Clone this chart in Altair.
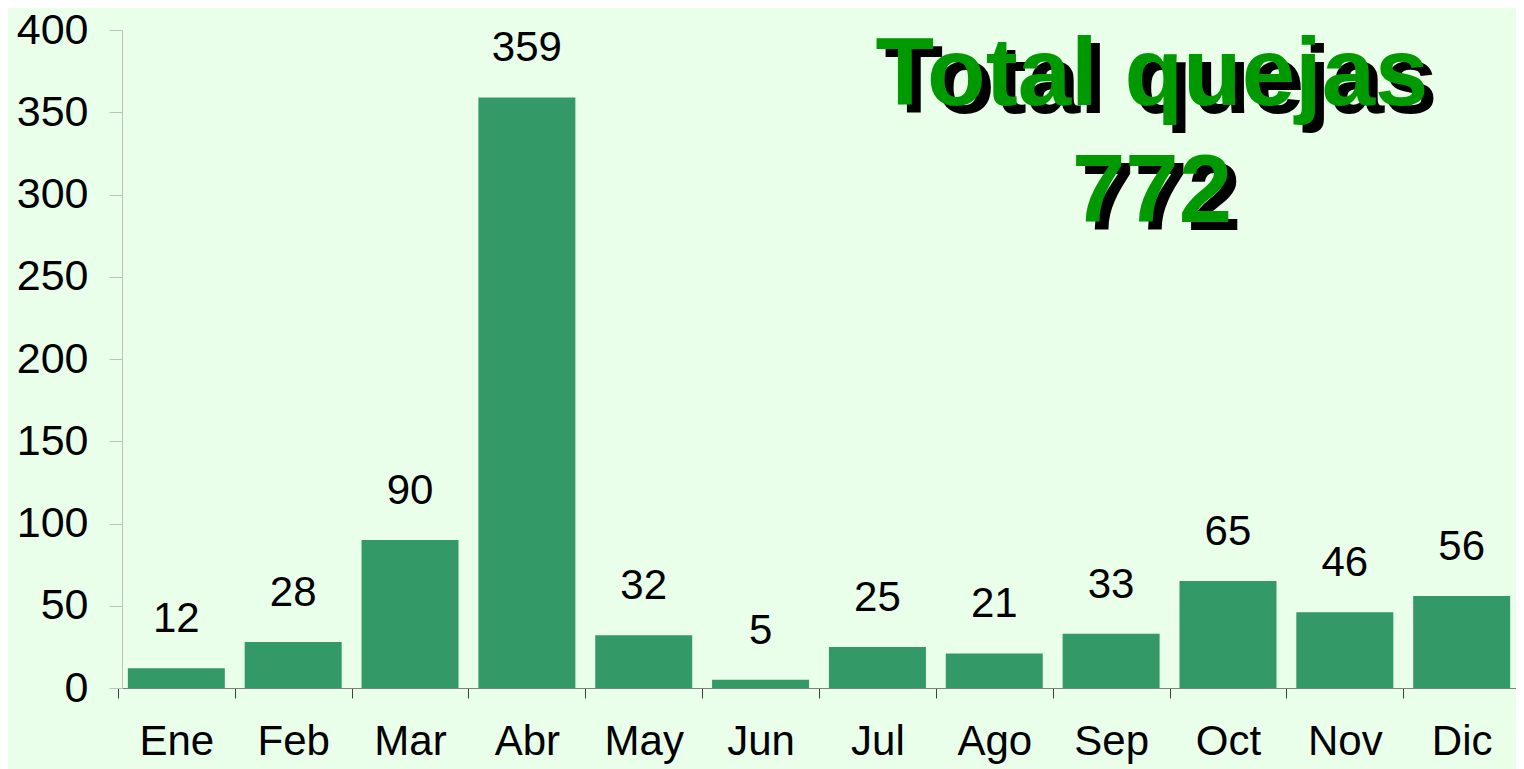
import altair as alt
import pandas as pd

months = ["Ene", "Feb", "Mar", "Abr", "May", "Jun", "Jul", "Ago", "Sep", "Oct", "Nov", "Dic"]
values = [12, 28, 90, 359, 32, 5, 25, 21, 33, 65, 46, 56]
title_line1 = "Total quejas"
title_line2 = "772"
y_ticks = [0, 50, 100, 150, 200, 250, 300, 350, 400]

df = pd.DataFrame({"mes": months, "quejas": values})

FONT = "Liberation Sans"
BG = "#EAFFEA"
BAR = "#339966"
TITLE_GREEN = "#009900"

W, H = 1394, 658
pi, po = 0.17, 0.05
step = W / (len(months) - pi + 2 * po)

x_enc = alt.X(
    "mes:N", sort=months,
    scale=alt.Scale(paddingInner=pi, paddingOuter=po),
    axis=alt.Axis(
        title=None, labelAngle=0, labelFont=FONT, labelFontSize=42, labelColor="black",
        labelPadding=23, tickSize=10, tickColor="#404040", domainColor="#808080",
        tickOffset=-step / 2, labelOffset=step / 2,
    ),
)
y_enc = alt.Y(
    "quejas:Q",
    scale=alt.Scale(domain=[0, 400], nice=False),
    axis=alt.Axis(
        title=None, values=y_ticks, grid=False, labelFont=FONT, labelFontSize=43,
        labelColor="black", tickSize=13, labelPadding=21, tickColor="#C0C0C0",
        domainColor="#C0C0C0",
    ),
)

base = alt.Chart(df)
bars = base.mark_bar(color=BAR).encode(x=x_enc, y=y_enc)
labels = base.mark_text(font=FONT, fontSize=42, color="black", dy=-36, baseline="alphabetic").encode(
    x=alt.X("mes:N", sort=months), y="quejas:Q", text="quejas:Q"
)

tx, ty1, ty2 = 1030, 75, 192
sx, sy = 9, 8
tdf = pd.DataFrame({"t1": [title_line1], "t2": [title_line2]})
tbase = alt.Chart(tdf)
common = dict(font=FONT, fontSize=96, fontWeight="bold", align="center", baseline="alphabetic")
sh1 = tbase.mark_text(color="black", **common).encode(text="t1:N", x=alt.value(tx + sx), y=alt.value(ty1 + sy))
sh2 = tbase.mark_text(color="black", **common).encode(text="t2:N", x=alt.value(tx + sx), y=alt.value(ty2 + sy))
t1 = tbase.mark_text(color=TITLE_GREEN, **common).encode(text="t1:N", x=alt.value(tx), y=alt.value(ty1))
t2 = tbase.mark_text(color=TITLE_GREEN, **common).encode(text="t2:N", x=alt.value(tx), y=alt.value(ty2))

chart = alt.layer(bars, labels, sh1, sh2, t1, t2).properties(
    width=W, height=H,
    autosize=alt.AutoSizeParams(type="none"),
    padding={"left": 114, "top": 22, "right": 0, "bottom": 83},
    background=BG,
).configure_view(stroke=None)

chart.save("out.html", embed_options={"renderer": "svg", "actions": False})
